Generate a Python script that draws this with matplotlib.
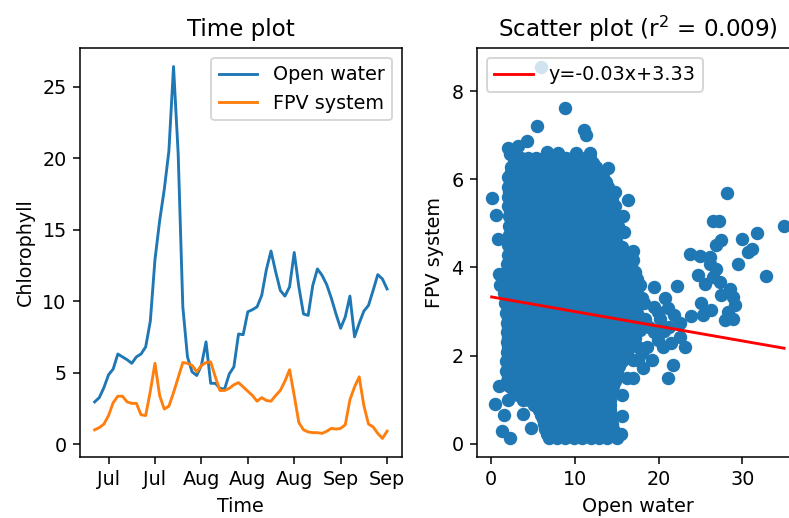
import numpy as np
import pandas as pd
import matplotlib
matplotlib.use("Agg")
import matplotlib.pyplot as plt
import matplotlib.dates as mdates

# ---- daily chlorophyll series ----
start_date = "2021-07-17"
open_water_daily = [
    2.95, 3.25, 3.95, 4.85, 5.25, 6.3, 6.1, 5.9, 5.65, 6.1,
    6.3, 6.8, 8.6, 12.9, 15.6, 17.8, 20.5, 26.4, 20.3, 9.6,
    6.1, 5.05, 4.8, 5.5, 7.15, 4.25, 4.25, 3.9, 3.85, 4.9,
    5.4, 7.7, 7.65, 9.25, 9.4, 9.6, 10.4, 12.2, 13.5, 12.05,
    10.75, 10.35, 11.0, 13.4, 11.0, 9.1, 9.0, 11.1, 12.25, 11.8,
    11.15, 10.2, 9.1, 8.1, 8.9, 10.35, 7.5, 8.45, 9.3, 9.7,
    10.75, 11.85, 11.55, 10.85,
]
fpv_daily = [
    1.0, 1.15, 1.4, 2.0, 2.9, 3.35, 3.35, 2.95, 2.85, 2.85,
    2.05, 2.0, 3.7, 5.65, 3.4, 2.45, 2.65, 3.6, 4.65, 5.7,
    5.65, 5.5, 5.05, 5.5, 5.7, 5.75, 4.7, 3.75, 3.75, 3.9,
    4.15, 4.3, 4.0, 3.7, 3.4, 3.0, 3.25, 3.05, 3.0, 3.4,
    3.75, 4.4, 5.2, 3.4, 1.5, 1.0, 0.85, 0.8, 0.8, 0.75,
    0.9, 1.1, 1.05, 1.1, 1.35, 3.1, 4.0, 4.7, 2.7, 1.4,
    1.2, 0.75, 0.4, 0.9,
]
tick_dates = ["2021-07-20", "2021-07-30", "2021-08-09", "2021-08-19",
              "2021-08-29", "2021-09-08", "2021-09-18"]

# ---- paired observations (open water vs FPV system), grouped by FPV level ----
core_row_y = [0.12, 0.33, 0.55, 0.77, 0.99, 1.21, 1.43, 1.65, 1.87, 2.09,
              2.31, 2.53, 2.75, 2.97, 3.19, 3.41, 3.63, 3.85, 4.07, 4.29,
              4.51, 4.73, 4.95, 5.17, 5.39, 5.61, 5.83, 6.05, 6.27, 6.49]
core_row_x = [
    [6.9, 7.9, 8.9, 9.9, 10.9, 11.9, 12.9, 13.9, 15.0],
    [6.5, 7.4, 8.4, 9.4, 10.4, 11.4, 12.4, 13.4, 14.6],
    [6.2, 7.1, 8.0, 9.0, 10.0, 11.0, 12.0, 13.0, 14.2],
    [5.8, 6.6, 7.5, 8.5, 9.5, 10.5, 11.5, 12.5, 13.5, 14.2],
    [3.8, 4.6, 5.5, 6.3, 7.1, 8.0, 9.0, 10.0, 11.0, 12.0, 13.0, 14.2],
    [2.6, 3.5, 4.4, 5.2, 6.0, 6.9, 7.8, 8.6, 9.5, 10.5, 11.5, 12.5, 13.5, 14.4],
    [1.9, 2.8, 3.7, 4.6, 5.5, 6.4, 7.3, 8.2, 9.1, 10.0, 11.0, 12.0, 13.0, 14.0, 14.8],
    [1.8, 2.4, 3.3, 4.2, 5.1, 6.0, 6.9, 7.8, 8.7, 9.6, 10.5, 11.5, 12.5, 13.5, 14.4, 15.0],
    [1.8, 2.8, 3.7, 4.6, 5.5, 6.4, 7.3, 8.2, 9.1, 10.0, 11.0, 12.0, 13.0, 14.0, 14.8, 15.6],
    [1.9, 2.4, 3.3, 4.2, 5.1, 6.0, 6.9, 7.8, 8.7, 9.6, 10.5, 11.5, 12.5, 13.5, 14.4, 15.3, 16.2],
    [1.9, 2.8, 3.7, 4.6, 5.5, 6.4, 7.3, 8.2, 9.1, 10.0, 11.0, 12.0, 13.0, 14.0, 14.9, 15.9, 16.8],
    [1.9, 2.4, 3.3, 4.2, 5.1, 6.0, 6.9, 7.8, 8.7, 9.6, 10.5, 11.5, 12.5, 13.5, 14.4, 15.4, 16.3, 17.2],
    [1.9, 2.8, 3.7, 4.6, 5.5, 6.4, 7.3, 8.2, 9.1, 10.0, 11.0, 12.0, 13.0, 14.0, 14.9, 15.8, 16.7, 17.6],
    [1.8, 2.4, 3.3, 4.2, 5.1, 6.0, 6.9, 7.8, 8.7, 9.6, 10.5, 11.5, 12.5, 13.5, 14.4, 15.4, 16.4, 17.4],
    [1.7, 2.8, 3.7, 4.6, 5.5, 6.4, 7.3, 8.2, 9.1, 10.0, 11.0, 12.0, 13.0, 14.0, 14.9, 15.9, 17.0],
    [1.6, 2.4, 3.3, 4.2, 5.1, 6.0, 6.9, 7.8, 8.7, 9.6, 10.5, 11.5, 12.5, 13.5, 14.4, 15.4, 16.3, 17.2],
    [1.7, 2.8, 3.7, 4.6, 5.5, 6.4, 7.3, 8.2, 9.1, 10.0, 11.0, 12.0, 13.0, 14.0, 14.9, 15.8, 16.7, 17.6],
    [1.8, 2.4, 3.3, 4.2, 5.1, 6.0, 6.9, 7.8, 8.7, 9.6, 10.5, 11.5, 12.5, 13.5, 14.4, 15.4, 16.3, 17.2],
    [1.9, 2.8, 3.7, 4.6, 5.5, 6.4, 7.3, 8.2, 9.1, 10.0, 11.0, 12.0, 13.0, 14.0, 14.9, 15.7, 16.4],
    [2.0, 2.6, 3.4, 4.3, 5.2, 6.1, 7.0, 7.9, 8.8, 9.7, 10.6, 11.5, 12.5, 13.5, 14.4, 15.1, 15.8],
    [2.1, 2.9, 3.8, 4.7, 5.6, 6.5, 7.4, 8.3, 9.2, 10.1, 11.0, 12.0, 13.0, 14.0, 14.7, 15.2],
    [2.2, 2.7, 3.5, 4.4, 5.3, 6.2, 7.1, 8.0, 8.9, 9.8, 10.7, 11.6, 12.5, 13.5, 14.4, 15.0],
    [2.2, 3.0, 3.9, 4.8, 5.7, 6.6, 7.5, 8.4, 9.3, 10.2, 11.1, 12.0, 13.0, 14.0, 14.7, 15.2],
    [2.2, 2.7, 3.5, 4.4, 5.3, 6.2, 7.1, 8.0, 8.9, 9.8, 10.7, 11.6, 12.5, 13.5, 14.3, 15.0],
    [2.1, 3.0, 3.9, 4.8, 5.7, 6.6, 7.5, 8.4, 9.3, 10.2, 11.1, 12.0, 13.0, 14.0, 14.8],
    [2.0, 2.6, 3.5, 4.4, 5.3, 6.2, 7.1, 8.0, 8.9, 9.8, 10.7, 11.6, 12.5, 13.5, 14.4],
    [2.0, 3.0, 3.9, 4.8, 5.7, 6.6, 7.5, 8.4, 9.3, 10.2, 11.1, 12.0, 13.0, 14.0],
    [2.1, 2.6, 3.5, 4.4, 5.3, 6.2, 7.1, 8.0, 8.9, 9.8, 10.7, 11.6, 12.5, 13.4],
    [2.4, 3.2, 4.1, 5.0, 5.9, 6.8, 7.7, 8.6, 9.5, 10.4, 11.3, 12.2, 12.6],
    [2.8, 3.6, 4.5, 5.4, 6.3, 7.2, 8.1, 9.0, 9.9, 10.8, 11.8],
]
mid_row_y = [0.22, 0.44, 0.66, 0.88, 1.10, 1.32, 1.54, 1.76, 1.98, 2.20,
             2.42, 2.64, 2.86, 3.08, 3.30, 3.52, 3.74, 3.96, 4.18, 4.40,
             4.62, 4.84, 5.06, 5.28, 5.50, 5.72, 5.94, 6.16, 6.38]
mid_row_x = [
    [6.7, 7.6, 8.6, 9.6, 10.6, 11.6, 12.6, 13.6, 14.8],
    [6.4, 7.2, 8.2, 9.2, 10.2, 11.2, 12.2, 13.2, 14.4],
    [6.0, 6.9, 7.8, 8.8, 9.8, 10.8, 11.8, 12.8, 13.8, 14.3],
    [5.2, 6.0, 6.8, 7.7, 8.7, 9.7, 10.7, 11.7, 12.7, 13.7, 14.2],
    [3.2, 4.1, 5.0, 5.8, 6.6, 7.5, 8.4, 9.3, 10.2, 11.2, 12.2, 13.2, 14.2],
    [2.2, 3.1, 4.0, 4.9, 5.7, 6.6, 7.5, 8.4, 9.3, 10.2, 11.2, 12.2, 13.2, 14.1, 14.6],
    [2.1, 3.0, 3.9, 4.8, 5.7, 6.6, 7.5, 8.4, 9.3, 10.3, 11.2, 12.2, 13.2, 14.2, 14.9],
    [2.0, 2.9, 3.8, 4.7, 5.6, 6.5, 7.4, 8.3, 9.2, 10.1, 11.0, 12.0, 13.0, 14.0, 14.9, 15.3],
    [2.1, 3.0, 3.9, 4.8, 5.7, 6.6, 7.5, 8.4, 9.3, 10.3, 11.2, 12.2, 13.2, 14.2, 15.1, 15.9],
    [2.0, 2.9, 3.8, 4.7, 5.6, 6.5, 7.4, 8.3, 9.2, 10.1, 11.0, 12.0, 13.0, 14.0, 14.9, 15.8, 16.5],
    [2.1, 3.0, 3.9, 4.8, 5.7, 6.6, 7.5, 8.4, 9.3, 10.3, 11.2, 12.2, 13.2, 14.2, 15.1, 16.1, 17.0],
    [2.0, 2.9, 3.8, 4.7, 5.6, 6.5, 7.4, 8.3, 9.2, 10.1, 11.0, 12.0, 13.0, 14.0, 14.9, 15.9, 16.8, 17.4],
    [2.1, 3.0, 3.9, 4.8, 5.7, 6.6, 7.5, 8.4, 9.3, 10.3, 11.2, 12.2, 13.2, 14.2, 15.1, 16.0, 16.9, 17.6],
    [2.0, 2.9, 3.8, 4.7, 5.6, 6.5, 7.4, 8.3, 9.2, 10.1, 11.0, 12.0, 13.0, 14.0, 14.9, 15.9, 16.7, 17.3],
    [1.9, 3.0, 3.9, 4.8, 5.7, 6.6, 7.5, 8.4, 9.3, 10.3, 11.2, 12.2, 13.2, 14.2, 15.1, 16.1, 17.1],
    [1.9, 2.9, 3.8, 4.7, 5.6, 6.5, 7.4, 8.3, 9.2, 10.1, 11.0, 12.0, 13.0, 14.0, 14.9, 15.9, 16.8, 17.4],
    [2.0, 3.0, 3.9, 4.8, 5.7, 6.6, 7.5, 8.4, 9.3, 10.3, 11.2, 12.2, 13.2, 14.2, 15.1, 16.0, 16.9, 17.4],
    [2.1, 2.9, 3.8, 4.7, 5.6, 6.5, 7.4, 8.3, 9.2, 10.1, 11.0, 12.0, 13.0, 14.0, 14.9, 15.9, 16.8],
    [2.2, 3.0, 3.9, 4.8, 5.7, 6.6, 7.5, 8.4, 9.3, 10.3, 11.2, 12.2, 13.2, 14.2, 15.0, 15.9],
    [2.3, 3.2, 4.1, 5.0, 5.9, 6.8, 7.7, 8.6, 9.5, 10.4, 11.3, 12.2, 13.2, 14.2, 14.9, 15.5],
    [2.4, 3.1, 4.0, 4.9, 5.8, 6.7, 7.6, 8.5, 9.4, 10.3, 11.2, 12.1, 13.0, 14.0, 14.8],
    [2.4, 3.3, 4.2, 5.1, 6.0, 6.9, 7.8, 8.7, 9.6, 10.5, 11.4, 12.3, 13.2, 14.2, 14.9],
    [2.4, 3.1, 4.0, 4.9, 5.8, 6.7, 7.6, 8.5, 9.4, 10.3, 11.2, 12.1, 13.0, 14.0, 14.8],
    [2.3, 3.3, 4.2, 5.1, 6.0, 6.9, 7.8, 8.7, 9.6, 10.5, 11.4, 12.3, 13.2, 14.2, 14.6],
    [2.3, 3.1, 4.0, 4.9, 5.8, 6.7, 7.6, 8.5, 9.4, 10.3, 11.2, 12.1, 13.0, 14.0, 14.5],
    [2.2, 3.2, 4.1, 5.0, 5.9, 6.8, 7.7, 8.6, 9.5, 10.4, 11.3, 12.2, 13.2, 14.1],
    [2.3, 3.0, 3.9, 4.8, 5.7, 6.6, 7.5, 8.4, 9.3, 10.2, 11.1, 12.0, 13.0, 13.7],
    [2.4, 3.3, 4.2, 5.1, 6.0, 6.9, 7.8, 8.7, 9.6, 10.5, 11.4, 12.3, 12.9],
    [2.8, 3.6, 4.5, 5.4, 6.3, 7.2, 8.1, 9.0, 9.9, 10.8, 11.7, 12.2],
]
edge_x = [
    0.11, 0.6, 0.85, 0.95, 1.1,
    2.1, 2.3, 3.2, 4.3, 5.5, 6.7, 8.0, 8.85, 10.2, 11.1, 11.4, 11.8,
    12.6, 14.0, 14.8, 16.4, 15.8, 15.9, 15.6, 17.0, 17.0, 17.2, 6.0,
    0.5, 1.0, 1.4, 2.3, 1.6, 2.0, 3.9, 4.8,
    15.7, 15.7, 15.5, 16.2,
    17.4, 16.6, 17.8, 19.4, 18.4, 20.2, 19.4, 21.1, 21.9, 19.4, 22.2,
    18.6, 20.5, 21.5, 22.5, 23.1, 19.2, 18.2, 21.7, 21.1, 16.9, 17.5, 18.3,
    16.0, 16.8, 17.0, 18.0, 18.9, 19.9, 20.6, 21.3, 22.6, 20.8, 17.2,
    18.0, 19.9, 16.4, 17.8, 16.6, 16.9, 17.6,
]
edge_y = [
    5.58, 5.2, 4.65, 3.85, 3.6,
    6.72, 6.58, 6.75, 6.87, 7.2, 6.62, 6.6, 7.62, 6.6, 7.12, 7.0, 6.6,
    6.15, 6.25, 5.72, 5.52, 5.16, 4.8, 4.46, 4.38, 4.16, 3.9, 8.56,
    0.9, 1.3, 0.28, 0.14, 0.65, 1.0, 0.68, 0.35,
    1.11, 0.62, 0.22, 1.48,
    3.3, 3.1, 2.58, 2.54, 2.84, 2.84, 3.10, 3.07, 2.92, 3.56, 3.57,
    2.20, 2.20, 2.28, 2.43, 2.20, 1.90, 1.71, 1.79, 1.48, 1.9, 2.2, 3.2,
    2.8, 2.6, 3.0, 3.3, 2.65, 3.0, 2.55, 2.65, 2.75, 3.3, 2.4,
    2.05, 2.35, 2.2, 3.6, 3.6, 1.5, 1.9,
]
high_x = [
    28.2, 26.5, 27.2, 34.96, 31.7, 30.0, 27.5, 26.9, 31.1, 30.7,
    23.8, 24.9, 26.1, 29.5, 24.7, 26.1, 26.9, 26.5, 25.5, 27.3,
    32.8, 28.5, 27.5, 28.9, 25.1, 29.1, 26.3, 23.9, 25.3, 27.9,
    28.9, 28.3,
]
high_y = [
    5.68, 5.05, 5.05, 4.95, 4.78, 4.65, 4.63, 4.51, 4.42, 4.35,
    4.31, 4.27, 4.23, 4.08, 3.82, 4.08, 3.97, 3.78, 3.63, 3.67,
    3.80, 3.52, 3.37, 3.33, 3.19, 3.14, 3.04, 2.89, 2.92, 2.80,
    2.84, 3.0,
]

# least-squares fit reported on the chart
fit_slope = -0.0334
fit_intercept = 3.334
r_squared = 0.009

# ---- assemble arrays ----
dates = pd.date_range(start_date, periods=len(open_water_daily), freq="D")


def flatten_rows(levels, rows):
    xs = [x for row in rows for x in row]
    ys = [y for y, row in zip(levels, rows) for _ in row]
    return xs, ys


core_x, core_y = flatten_rows(core_row_y, core_row_x)
mid_x, mid_y = flatten_rows(mid_row_y, mid_row_x)
open_water = np.array(core_x + mid_x + edge_x + high_x)
fpv = np.array(core_y + mid_y + edge_y + high_y)

DPI = 138
fig = plt.figure(figsize=(789 / DPI, 518 / DPI), dpi=DPI)
ax1 = fig.add_axes([0.1014, 0.1178, 0.4077, 0.7896])
ax2 = fig.add_axes([0.6046, 0.1178, 0.4077, 0.7896])

# time plot
ax1.plot(dates, open_water_daily, label="Open water")
ax1.plot(dates, fpv_daily, label="FPV system")
ax1.set_xticks(pd.to_datetime(tick_dates))
ax1.xaxis.set_major_formatter(mdates.DateFormatter("%b"))
ax1.set_yticks([0, 5, 10, 15, 20, 25])
ax1.set_title("Time plot")
ax1.set_xlabel("Time")
ax1.set_ylabel("Chlorophyll")
ax1.legend(loc="upper right")

# scatter with regression line
ax2.scatter(open_water, fpv)
line_x = np.array([open_water.min(), open_water.max()])
ax2.plot(line_x, fit_slope * line_x + fit_intercept, color="red",
         label=f"y={fit_slope:.2f}x+{fit_intercept:.2f}")
ax2.set_title(f"Scatter plot (r$^2$ = {r_squared:.3f})")
ax2.set_xlabel("Open water")
ax2.set_ylabel("FPV system")
ax2.set_xticks([0, 10, 20, 30])
ax2.set_yticks([0, 2, 4, 6, 8])
ax2.legend(loc="upper left")

fig.savefig("out.png", dpi=DPI)
